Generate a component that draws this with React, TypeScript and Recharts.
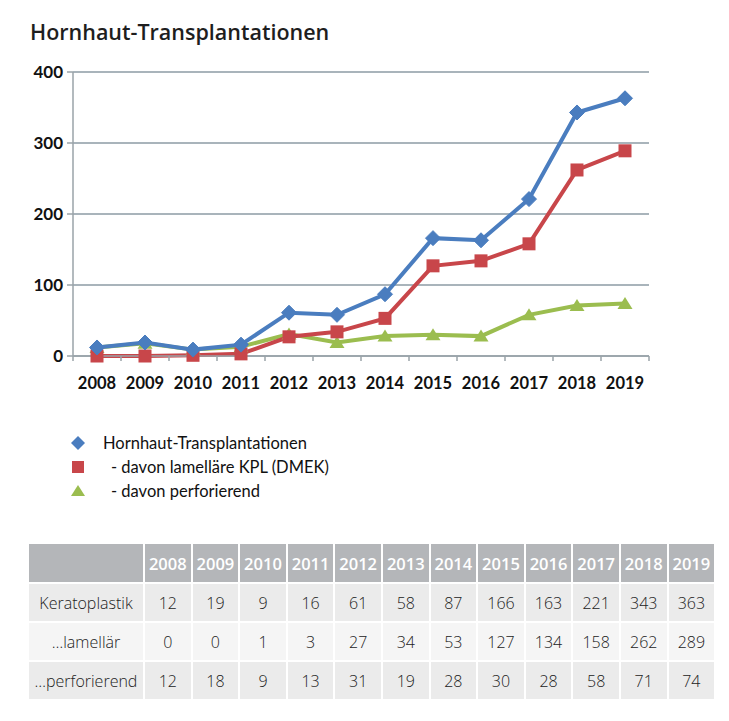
import React from 'react';
import { LineChart, Line, XAxis, YAxis, CartesianGrid } from 'recharts';

const years = ['2008', '2009', '2010', '2011', '2012', '2013', '2014', '2015', '2016', '2017', '2018', '2019'];
const keratoplastik = [12, 19, 9, 16, 61, 58, 87, 166, 163, 221, 343, 363];
const lamellar = [0, 0, 1, 3, 27, 34, 53, 127, 134, 158, 262, 289];
const perforierend = [12, 18, 9, 13, 31, 19, 28, 30, 28, 58, 71, 74];
const yTicks = [0, 100, 200, 300, 400];
const seriesNames = ['Hornhaut-Transplantationen', '- davon lamelläre KPL (DMEK)', '- davon perforierend'];
const rowLabels = ['Keratoplastik', '…lamellär', '…perforierend'];
const title = 'Hornhaut-Transplantationen';

const BLUE = '#4a7dbf';
const RED = '#c8464a';
const GREEN = '#9bbd4f';
const AXIS = '#9aa3a9';
const GRID = '#8d9ba5';

const data = years.map((y, i) => ({ year: y, k: keratoplastik[i], l: lamellar[i], p: perforierend[i] }));
const tableRows = [keratoplastik, lamellar, perforierend];

const diamond = (cx: number, cy: number, r: number) =>
  `${cx},${cy - r} ${cx + r},${cy} ${cx},${cy + r} ${cx - r},${cy}`;
const triangle = (cx: number, cy: number, r: number) =>
  `${cx},${cy - r} ${cx + r + 1},${cy + r - 1} ${cx - r - 1},${cy + r - 1}`;

const DiamondDot = (props: any) => {
  const { cx, cy, index } = props;
  return <polygon key={`d${index}`} points={diamond(cx, cy, 7.5)} fill={BLUE} stroke={BLUE} strokeWidth={1} />;
};
const SquareDot = (props: any) => {
  const { cx, cy, index } = props;
  return <rect key={`s${index}`} x={cx - 6.5} y={cy - 6.5} width={13} height={13} fill={RED} />;
};
const TriangleDot = (props: any) => {
  const { cx, cy, index } = props;
  return <polygon key={`t${index}`} points={triangle(cx, cy, 6.5)} fill={GREEN} />;
};

const XTick = (props: any) => {
  const { x, y, payload, index } = props;
  const off = payload.offset || 24;
  return (
    <g>
      <line x1={x - off} x2={x - off} y1={y} y2={y + 5} stroke={AXIS} strokeWidth={1.5} />
      {index === years.length - 1 && (
        <line x1={x + off} x2={x + off} y1={y} y2={y + 5} stroke={AXIS} strokeWidth={1.5} />
      )}
      <text x={x} y={y + 33} textAnchor="middle" fill="#111" fontSize={16.5} fontWeight={700} fontFamily="Lato">
        {payload.value}
      </text>
    </g>
  );
};

const cellStyle = (r: number): React.CSSProperties => ({
  background: r === 1 ? '#f5f5f5' : '#ebebeb',
  border: '2px solid #fff',
  padding: 0,
  textAlign: 'center',
  fontSize: 16,
  fontWeight: 300,
  color: '#222',
});

export default function App() {
  return (
    <div style={{ position: 'absolute', left: 0, top: 0, width: 729, height: 721, background: '#fff', overflow: 'hidden' }}>
      <LineChart width={729} height={420} data={data} margin={{ top: 72, right: 80, left: 0, bottom: 20 }}>
        <CartesianGrid vertical={false} stroke={GRID} strokeWidth={1.6} />
        <XAxis
          dataKey="year"
          scale="band"
          height={44}
          interval={0}
          tickSize={0}
          tickMargin={0}
          tickLine={false}
          axisLine={{ stroke: AXIS, strokeWidth: 1.5 }}
          tick={<XTick />}
        />
        <YAxis
          width={73}
          domain={[0, 400]}
          ticks={yTicks}
          interval={0}
          tickSize={6}
          tickMargin={4}
          axisLine={{ stroke: AXIS, strokeWidth: 1.5 }}
          tickLine={{ stroke: AXIS, strokeWidth: 1.5 }}
          tick={{ fill: '#111', fontSize: 17, fontWeight: 700, fontFamily: 'Lato' }}
        />
        <Line dataKey="p" stroke={GREEN} strokeWidth={4} dot={TriangleDot} isAnimationActive={false} />
        <Line dataKey="l" stroke={RED} strokeWidth={4} dot={SquareDot} isAnimationActive={false} />
        <Line dataKey="k" stroke={BLUE} strokeWidth={4} dot={DiamondDot} isAnimationActive={false} />
      </LineChart>

      <svg width={729} height={721} style={{ position: 'absolute', left: 0, top: 0, pointerEvents: 'none' }}>
        <text x={30} y={40} fontFamily="'Open Sans'" fontSize={21.5} fontWeight={600} fill="#1e1e1e">
          {title}
        </text>
        <polygon points={diamond(78, 443, 7)} fill={BLUE} />
        <rect x={72} y={461} width={12} height={12} fill={RED} />
        <polygon points={triangle(78, 491, 6)} fill={GREEN} />
        <text x={103} y={449} fontFamily="Lato" fontSize={16.5} fill="#111">{seriesNames[0]}</text>
        <text x={111} y={473} fontFamily="Lato" fontSize={16.5} fill="#111">{seriesNames[1]}</text>
        <text x={111} y={497} fontFamily="Lato" fontSize={16.5} fill="#111">{seriesNames[2]}</text>
      </svg>

      <table
        style={{
          position: 'absolute',
          left: 27,
          top: 542,
          width: 687,
          borderCollapse: 'collapse',
          tableLayout: 'fixed',
          fontFamily: "'Open Sans'",
        }}
      >
        <colgroup>
          <col style={{ width: 116 }} />
          {years.map((y) => (
            <col key={y} style={{ width: 47.6 }} />
          ))}
        </colgroup>
        <thead>
          <tr style={{ height: 40 }}>
            <th style={{ background: '#b4b6b9', border: '2px solid #fff', padding: 0 }} />
            {years.map((y) => (
              <th
                key={y}
                style={{
                  background: '#b4b6b9',
                  color: '#fff',
                  border: '2px solid #fff',
                  padding: 0,
                  fontSize: 16.5,
                  fontWeight: 600,
                  textAlign: 'center',
                }}
              >
                {y}
              </th>
            ))}
          </tr>
        </thead>
        <tbody>
          {tableRows.map((row, r) => (
            <tr key={r} style={{ height: 39 }}>
              <td style={cellStyle(r)}>{rowLabels[r]}</td>
              {row.map((v, i) => (
                <td key={i} style={cellStyle(r)}>
                  {v}
                </td>
              ))}
            </tr>
          ))}
        </tbody>
      </table>
    </div>
  );
}
